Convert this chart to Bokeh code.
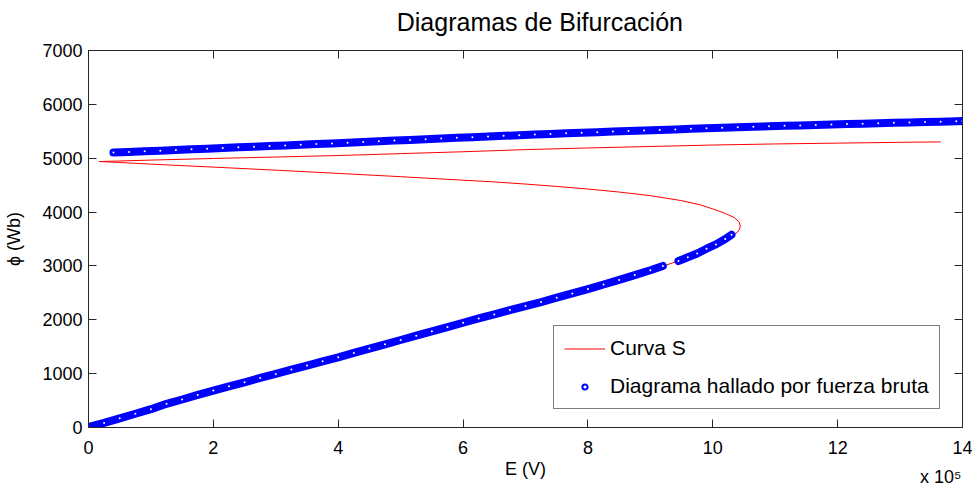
from bokeh.plotting import figure
from bokeh.models import (Range1d, FixedTicker, LinearAxis, Legend, LegendItem)
from bokeh.embed import file_html
from bokeh.resources import INLINE

FONT = "Liberation Sans"

# texts
title_text = "Diagramas de Bifurcación"
title_pos = 7.23                               # horizontal centre of the title, in x units
x_ticks = [0, 2, 4, 6, 8, 10, 12, 14]          # E in units of 10^5 V
y_ticks = [0, 1000, 2000, 3000, 4000, 5000, 6000, 7000]
x_scale_note = "x 10⁵"
x_scale_note_pos = 13.65

# Red S-curve (E in 10^5 V, phi in Wb)
curve_E = [0.0, 1.0, 2.0, 3.0, 4.0, 5.0, 6.0, 7.0, 8.0, 9.0, 9.43, 9.86, 10.1,
           10.29, 10.39, 10.43, 10.44, 10.42, 10.34, 10.2, 10.02, 9.8, 9.5, 9.0,
           8.5, 8.0, 7.5, 7.0, 6.5, 6.0, 5.0, 4.0, 3.0, 2.0, 1.0, 0.43, 0.17,
           1.0, 2.0, 3.0, 4.0, 5.0, 6.0, 7.0, 8.0, 9.0, 10.0, 11.0, 12.0, 13.0, 13.65]
curve_phi = [0, 340, 686, 995, 1303, 1625, 1945, 2255, 2570, 2920, 3084, 3313, 3440,
             3560, 3622, 3684, 3746, 3820, 3900, 3975, 4050, 4135, 4212, 4305,
             4372, 4428, 4476, 4520, 4560, 4592, 4657, 4718, 4778, 4835, 4890, 4925, 4938,
             4965, 4995, 5022, 5050, 5085, 5120, 5160, 5190, 5218, 5245, 5265, 5280, 5295, 5303]

# Brute-force diagram: lower branch (first segment)
bf_low_E = [0.0, 0.25, 0.5, 0.75, 1.0, 1.25, 1.5, 1.75, 2.0, 2.25, 2.5, 2.75, 3.0,
            3.25, 3.5, 3.75, 4.0, 4.25, 4.5, 4.75, 5.0, 5.25, 5.5, 5.75, 6.0, 6.25,
            6.5, 6.75, 7.0, 7.25, 7.5, 7.75, 8.0, 8.25, 8.5, 8.75, 9.0, 9.2]
bf_low_phi = [10, 85, 170, 255, 340, 440, 520, 605, 686, 765, 840, 920, 995,
              1075, 1150, 1228, 1303, 1385, 1465, 1545, 1625, 1705, 1785, 1865, 1945, 2025,
              2100, 2180, 2255, 2330, 2410, 2490, 2570, 2655, 2740, 2830, 2920, 3000]
# lower branch (second segment, near the fold)
bf_mid_E = [9.45, 9.6, 9.75, 9.9, 10.05, 10.2, 10.3]
bf_mid_phi = [3090, 3160, 3230, 3320, 3400, 3500, 3580]
# upper branch
bf_up_E = [0.4, 0.65, 0.9, 1.15, 1.4, 1.65, 1.9, 2.15, 2.4, 2.65, 2.9, 3.15, 3.4,
           3.65, 3.9, 4.15, 4.4, 4.65, 4.9, 5.15, 5.4, 5.65, 5.9, 6.15, 6.4, 6.65,
           6.9, 7.15, 7.4, 7.65, 7.9, 8.15, 8.4, 8.65, 8.9, 9.15, 9.4, 9.65, 9.9,
           10.15, 10.4, 10.65, 10.9, 11.15, 11.4, 11.65, 11.9, 12.15, 12.4, 12.65,
           12.9, 13.15, 13.4, 13.65, 13.9, 14.0]
bf_up_phi = [5105, 5115, 5128, 5140, 5152, 5165, 5177, 5190, 5202, 5214, 5226, 5238, 5250,
             5262, 5275, 5288, 5301, 5314, 5327, 5340, 5352, 5365, 5378, 5390, 5403, 5415,
             5428, 5440, 5451, 5462, 5473, 5484, 5494, 5505, 5515, 5525, 5535, 5545, 5555,
             5565, 5575, 5585, 5593, 5601, 5609, 5617, 5625, 5633, 5641, 5649,
             5657, 5664, 5671, 5678, 5685, 5690]

RED = "#ff0000"
BLUE = "#0000ff"
AX = "#262626"

p = figure(width=972, height=490, x_range=Range1d(0, 14), y_range=Range1d(0, 7000),
           output_backend="svg", toolbar_location=None,
           min_border_left=88, min_border_right=10, min_border_top=50, min_border_bottom=63)
p.grid.visible = False
p.outline_line_color = AX
p.background_fill_color = "white"

def style_axis(ax, ticks, show_labels=True):
    ax.ticker = FixedTicker(ticks=ticks)
    ax.major_tick_in = 8
    ax.major_tick_out = 0
    ax.minor_tick_line_color = None
    ax.axis_line_color = AX
    ax.major_tick_line_color = AX
    ax.major_label_text_font = FONT
    if show_labels:
        ax.major_label_text_font_size = "18px"
        ax.major_label_text_color = "black"
    else:
        ax.major_label_text_font_size = "0px"
        ax.major_label_text_color = None
        ax.major_label_standoff = 0

def text_only_axis(pos, text, size, standoff):
    ax = LinearAxis(ticker=FixedTicker(ticks=[pos]), major_label_overrides={pos: text})
    ax.axis_line_color = None
    ax.major_tick_line_color = None
    ax.minor_tick_line_color = None
    ax.major_tick_in = 0
    ax.major_tick_out = 0
    ax.major_label_standoff = standoff
    ax.major_label_text_font = FONT
    ax.major_label_text_font_size = size
    ax.major_label_text_color = "black"
    return ax

style_axis(p.xaxis[0], x_ticks)
style_axis(p.yaxis[0], y_ticks)
p.xaxis[0].major_label_standoff = 13
p.yaxis[0].major_label_standoff = 6

p.xaxis[0].axis_label = "E (V)"
p.yaxis[0].axis_label = "ϕ (Wb)"
for ax in (p.xaxis[0], p.yaxis[0]):
    ax.axis_label_text_font = FONT
    ax.axis_label_text_font_size = "18px"
    ax.axis_label_text_font_style = "normal"
    ax.axis_label_text_color = "black"
p.xaxis[0].axis_label_standoff = 2
p.yaxis[0].axis_label_standoff = 15

top_ax = LinearAxis()
style_axis(top_ax, x_ticks, show_labels=False)
p.add_layout(top_ax, "above")
right_ax = LinearAxis()
style_axis(right_ax, y_ticks, show_labels=False)
p.add_layout(right_ax, "right")

# chart title, placed above the frame
p.add_layout(text_only_axis(title_pos, title_text, "25px", 15), "above")
# exponent note of the x axis, under the main x axis
p.add_layout(text_only_axis(x_scale_note_pos, x_scale_note, "18px", -15), "below")

# red S-curve
r_curve = p.line(curve_E, curve_phi, line_color=RED, line_width=1)

# brute-force diagram: dense blue band of points
for xs, ys in ((bf_low_E, bf_low_phi), (bf_mid_E, bf_mid_phi), (bf_up_E, bf_up_phi)):
    p.line(xs, ys, line_color=BLUE, line_width=8, line_cap="round", line_join="round")
r_pts = p.scatter(bf_low_E + bf_mid_E + bf_up_E, bf_low_phi + bf_mid_phi + bf_up_phi,
                  marker="circle", size=4, line_color=BLUE, line_width=2, fill_color="white")

legend = Legend(items=[LegendItem(label="Curva S", renderers=[r_curve]),
                       LegendItem(label="Diagrama hallado por fuerza bruta", renderers=[r_pts])],
                location=(465, 18))
legend.border_line_color = "black"
legend.border_line_width = 1
legend.background_fill_color = "white"
legend.background_fill_alpha = 1
legend.label_text_font = FONT
legend.label_text_font_size = "21px"
legend.label_text_color = "black"
legend.glyph_width = 41
legend.glyph_height = 13
legend.label_height = 24
legend.label_standoff = 5
legend.spacing = 14
legend.padding = 10
legend.margin = 0
p.add_layout(legend)

open("out.html", "w").write(file_html(p, INLINE))
